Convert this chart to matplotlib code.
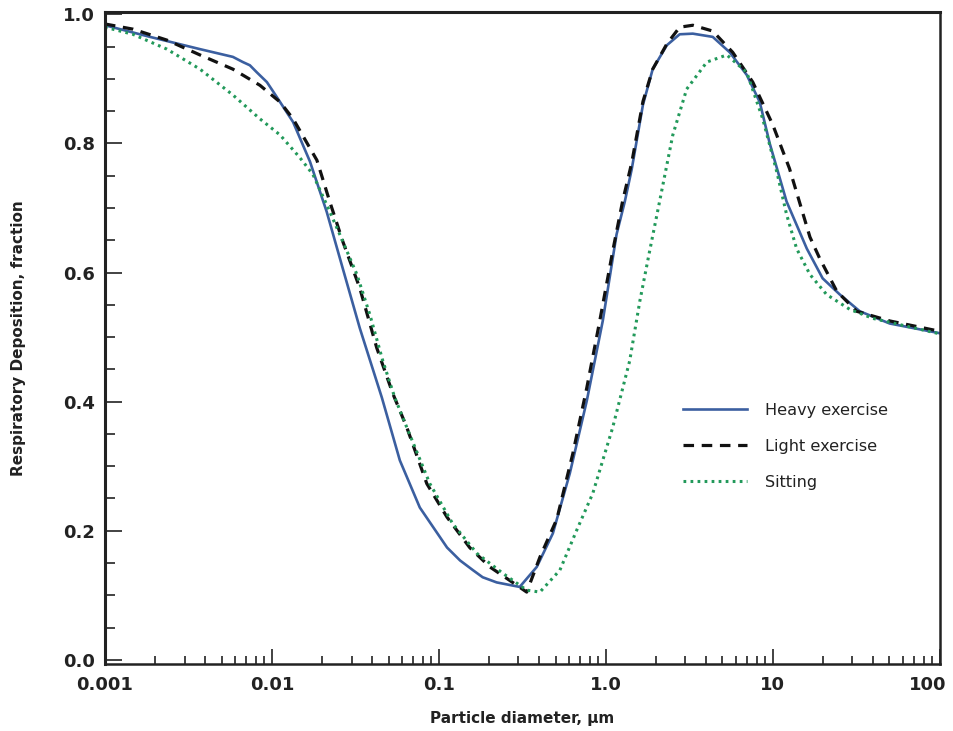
import matplotlib
matplotlib.use("Agg")
import matplotlib.pyplot as plt
import matplotlib.transforms as mtransforms
from matplotlib.ticker import LogLocator, FixedLocator, FixedFormatter, MultipleLocator

# ---- data ----
heavy_x = [0.001, 0.00186, 0.00371, 0.00584, 0.0067, 0.00738, 0.00813, 0.00933, 0.0102, 0.0112,
           0.0134, 0.0169, 0.0213, 0.0266, 0.0336, 0.0456, 0.0584, 0.0769, 0.112, 0.134,
           0.160, 0.183, 0.222, 0.266, 0.305, 0.386, 0.482, 0.609, 0.769, 0.959, 1.16, 1.30,
           1.43, 1.67, 1.91, 2.32, 2.77, 3.32, 4.37, 5.53, 6.99, 8.36, 9.59, 12.1, 16.0,
           19.9, 25.2, 33.2, 50.2, 100]
heavy_y = [0.983, 0.965, 0.946, 0.934, 0.926, 0.921, 0.910, 0.895, 0.880, 0.864,
           0.833, 0.772, 0.694, 0.606, 0.514, 0.406, 0.309, 0.236, 0.174, 0.154,
           0.139, 0.128, 0.120, 0.116, 0.113, 0.144, 0.196, 0.289, 0.401, 0.525, 0.659, 0.71,
           0.76, 0.86, 0.915, 0.952, 0.969, 0.97, 0.965, 0.941, 0.906, 0.864, 0.80, 0.71, 0.637,
           0.591, 0.566, 0.54, 0.521, 0.506]

light_x = [0.001, 0.00147, 0.00235, 0.00371, 0.00584, 0.00848, 0.0112, 0.0134, 0.0186, 0.0222,
           0.0266, 0.0336, 0.0425, 0.0531, 0.0643, 0.0847, 0.112, 0.153, 0.202, 0.266, 0.336,
           0.403, 0.509, 0.634, 0.769, 0.920, 1.10, 1.26, 1.43, 1.67, 1.91, 2.32, 2.77, 3.32,
           4.37, 5.76, 7.59, 10.0, 12.6, 16.7, 19.1, 24.2, 31.8, 50.2, 100]
light_y = [0.985, 0.977, 0.96, 0.937, 0.915, 0.89, 0.864, 0.838, 0.774, 0.71,
           0.648, 0.576, 0.483, 0.412, 0.36, 0.273, 0.221, 0.174, 0.144, 0.123, 0.105,
           0.159, 0.218, 0.319, 0.421, 0.525, 0.633, 0.71, 0.77, 0.865, 0.915, 0.954, 0.98, 0.983,
           0.974, 0.941, 0.895, 0.829, 0.761, 0.655, 0.622, 0.571, 0.54, 0.525, 0.509]

sit_x = [0.001, 0.00147, 0.00235, 0.00371, 0.00584, 0.00848, 0.0112, 0.0147, 0.0176, 0.0213,
         0.0255, 0.0323, 0.0386, 0.0462, 0.0545, 0.0643, 0.0883, 0.121, 0.169, 0.242, 0.336,
         0.403, 0.531, 0.670, 0.836, 1.10, 1.39, 1.60, 1.83, 2.10, 2.52, 3.05, 4.03, 5.31,
         6.99, 8.71, 10.6, 12.1, 13.9, 16.7, 21.0, 28.9, 39.7, 100]
sit_y = [0.98, 0.969, 0.946, 0.915, 0.875, 0.838, 0.813, 0.778, 0.752, 0.705,
         0.659, 0.597, 0.535, 0.463, 0.406, 0.36, 0.273, 0.211, 0.165, 0.134, 0.108,
         0.105, 0.139, 0.201, 0.258, 0.36, 0.463, 0.556, 0.633, 0.71, 0.813, 0.884, 0.926, 0.937,
         0.91, 0.838, 0.755, 0.69, 0.637, 0.597, 0.566, 0.543, 0.529, 0.505]

x_ticks = [0.001, 0.01, 0.1, 1.0, 10, 100]
x_tick_labels = ["0.001", "0.01", "0.1", "1.0", "10", "100"]
y_ticks = [0.0, 0.2, 0.4, 0.6, 0.8, 1.0]
y_tick_labels = ["0.0", "0.2", "0.4", "0.6", "0.8", "1.0"]
series_labels = ["Heavy exercise", "Light exercise", "Sitting"]

# ---- figure ----
fig = plt.figure(figsize=(9.54, 7.31), dpi=100)
ax = fig.add_axes([0.110, 0.092, 0.875, 0.892])

ax.plot(heavy_x, heavy_y, color="#3b5fa0", lw=1.9, ls="-", label=series_labels[0],
        solid_joinstyle="round")
ax.plot(light_x, light_y, color="#111111", lw=2.3, ls=(0, (3.3, 2.4)), label=series_labels[1])
ax.plot(sit_x, sit_y, color="#22995a", lw=2.2, ls=(0, (0.9, 1.4)), label=series_labels[2])

ax.set_xscale("log")
ax.set_xlim(0.001, 100)
ax.set_ylim(-0.006, 1.004)

ax.xaxis.set_major_locator(FixedLocator(x_ticks))
ax.xaxis.set_major_formatter(FixedFormatter(x_tick_labels))
ax.xaxis.set_minor_locator(LogLocator(base=10, subs=[2, 3, 4, 5, 6, 7, 8, 9], numticks=20))
ax.yaxis.set_major_locator(FixedLocator(y_ticks))
ax.yaxis.set_major_formatter(FixedFormatter(y_tick_labels))
ax.yaxis.set_minor_locator(MultipleLocator(0.05))

ax.tick_params(axis="both", which="both", direction="in", top=False, right=False,
               color="#222222")
ax.tick_params(axis="x", which="major", length=11, width=1.2, pad=9)
ax.tick_params(axis="x", which="minor", length=6, width=1.2)
ax.tick_params(axis="y", which="major", length=12, width=1.2, pad=7)
ax.tick_params(axis="y", which="minor", length=7, width=1.2)

for lab in ax.get_xticklabels() + ax.get_yticklabels():
    lab.set_fontsize(13)
    lab.set_fontweight("bold")
    lab.set_color("#222222")

# keep the last x label inside the figure (right-aligned like the reference)
last = ax.get_xticklabels()[-1]
last.set_horizontalalignment("right")
last.set_transform(last.get_transform() +
                   mtransforms.ScaledTranslation(0.07, 0, fig.dpi_scale_trans))

for side in ["left", "top"]:
    ax.spines[side].set_linewidth(2.2)
for side in ["right", "bottom"]:
    ax.spines[side].set_linewidth(1.8)
for s in ax.spines.values():
    s.set_color("#222222")

ax.set_xlabel("Particle diameter, µm", fontsize=11, fontweight="bold", labelpad=12,
              color="#222222")
ax.set_ylabel("Respiratory Deposition, fraction", fontsize=11, fontweight="bold",
              labelpad=27, color="#222222")

leg = ax.legend(loc="upper left", bbox_to_anchor=(683 / 954, 1 - 403 / 731),
                bbox_transform=fig.transFigure, frameon=False, fontsize=11.6,
                handlelength=4.0, handletextpad=1.1, labelspacing=1.3,
                borderpad=0, borderaxespad=0)
for t in leg.get_texts():
    t.set_color("#222222")

fig.savefig("out.png", dpi=100)
